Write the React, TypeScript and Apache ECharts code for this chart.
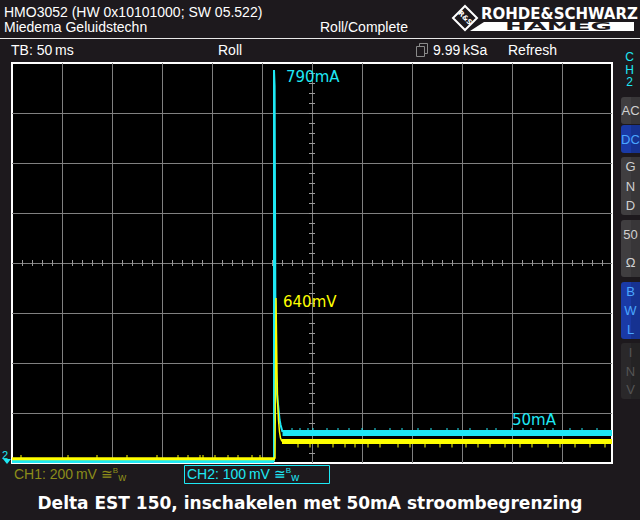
import { useEffect, useRef } from "react";
import * as echarts from "echarts";

// ---- Scope settings ----
const MS_PER_DIV = 50;
const X_DIVS = 12;
const Y_DIVS = 8;
const CH1_MV_PER_DIV = 200;
const CH2_MA_PER_DIV = 100;

// ---- CH2 (current, mA) ----
const ch2PreTrigger: [number, number][] = [[0, 3], [262, 3]];
const ch2Transient: [number, number][] = [
  [262, 3], [262, 786], [262.6, 754], [263.6, 182], [264.6, 146], [265.6, 126],
  [266.6, 106], [267.6, 86], [268.6, 76], [270.5, 62],
];
const ch2Settled: [number, number][] = [[270.5, 60], [600, 60]];
const ch2GlitchTimes = [280, 288, 296, 301, 315, 326, 337, 350, 363, 378, 390, 406, 419, 435, 446, 458, 475, 484, 500, 511, 519, 533, 541, 558, 570, 585];
const ch2GlitchPeak = 70;

// ---- CH1 (voltage, mV) ----
const ch1PreTrigger: [number, number][] = [[0, 17], [263, 17]];
const ch1PreGlitchTimes = [9, 56, 85, 115, 145, 166, 176, 188, 191, 203, 216, 226, 240, 248];
const ch1PreGlitchPeak = 32;
const ch1Transient: [number, number][] = [
  [263, 17], [264, 660], [265, 364], [265.6, 244], [266.5, 172], [267.5, 124],
  [268.5, 100], [270, 86],
];
const ch1Settled: [number, number][] = [[270, 86], [600, 86]];
const ch1GlitchTimes = [286, 298, 306, 321, 333, 343, 356, 368, 386, 398, 413, 428, 440, 454, 466, 478, 493, 508, 520, 536, 548, 563, 578, 593];
const ch1GlitchPeak = 62;

// ---- Texts ----
const headerLine1 = "HMO3052 (HW 0x10101000; SW 05.522)";
const headerLine2 = "Miedema Geluidstechn";
const modeText = "Roll/Complete";
const timebaseText = "TB: 50\u2009ms";
const rollText = "Roll";
const sampleRateText = "9.99\u2009kSa";
const refreshText = "Refresh";
const peakCurrentLabel = "790mA";
const peakVoltageLabel = "640mV";
const settledCurrentLabel = "50mA";
const ch1ScaleText = "CH1: 200\u2009mV \u2245";
const ch2ScaleText = "CH2: 100\u2009mV \u2245";
const captionText = "Delta EST 150, inschakelen met 50mA stroombegrenzing";

const CYAN = "#1ee8f4";
const YELLOW = "#ffff00";
const BG = "#1d191d";

// layout
const GL = 12, GT = 63, GW = 600, GH = 400;

const ch1 = (pts: [number, number][]) => pts.map(([t, v]) => [t, v / CH1_MV_PER_DIV]);
const ch2 = (pts: [number, number][]) => pts.map(([t, v]) => [t, v / CH2_MA_PER_DIV]);
const glitches = (times: number[], base: number, peak: number, perDiv: number) => {
  const out: any[] = [];
  times.forEach((t) => {
    out.push([t, base / perDiv], [t, peak / perDiv], [t, "-"]);
  });
  return out;
};

const lineSeries = (data: any[], color: string, width: number, z: number) => ({
  type: "line",
  data,
  symbol: "none",
  silent: true,
  z,
  lineStyle: { color, width, cap: "butt", join: "miter" },
  connectNulls: false,
});

const txt = (x: number, y: number, text: string, fill: string, font: string, align = "left", extra: any = {}) => ({
  type: "text",
  x,
  y,
  z: 50,
  silent: true,
  style: { text, fill, font, align, verticalAlign: "middle" },
  ...extra,
});

const FONT = '14px "Liberation Sans", Arial, sans-serif';
const BTN_FONT = '12px "Liberation Sans", Arial, sans-serif';

function buildGraphics() {
  const g: any[] = [];
  // header
  g.push(txt(4, 12, headerLine1, "#ffffff", FONT));
  g.push(txt(4, 27, headerLine2, "#ffffff", FONT));
  g.push(txt(320, 27, modeText, "#ffffff", FONT));
  g.push({ type: "line", z: 50, silent: true, shape: { x1: 0, y1: 38.5, x2: 640, y2: 38.5 }, style: { stroke: "#e8e8e8", lineWidth: 1 } });
  // logo
  g.push({ type: "polygon", z: 50, silent: true, shape: { points: [[465, 6], [477, 18], [465, 30], [453, 18]] }, style: { fill: "none", stroke: "#ffffff", lineWidth: 2 } });
  g.push(txt(465, 18, "R&S", "#ffffff", 'bold 7px "DejaVu Sans", sans-serif', "center", { rotation: -Math.PI / 4 }));
  g.push(txt(481, 14, "ROHDE&SCHWARZ", "#ffffff", 'bold 15px "DejaVu Sans", sans-serif', "left"));
  g.push({ type: "rect", z: 50, silent: true, shape: { x: 484, y: 22, width: 150, height: 9 }, style: { fill: "#ffffff" } });
  g.push({ type: "polygon", z: 50, silent: true, shape: { points: [[484, 22], [484, 31], [470, 31]] }, style: { fill: "#ffffff" } });
  g.push(txt(505, 26.8, "HAMEG", BG, 'bold 10px "DejaVu Sans", sans-serif', "left", { scaleX: 2.6 }));
  // status row
  g.push(txt(11, 50, timebaseText, "#ffffff", FONT));
  g.push(txt(218, 50, rollText, "#ffffff", FONT));
  g.push({ type: "rect", z: 50, silent: true, shape: { x: 419.5, y: 43.5, width: 8, height: 10 }, style: { fill: BG, stroke: "#8a8a8a", lineWidth: 1 } });
  g.push({ type: "rect", z: 51, silent: true, shape: { x: 416.5, y: 46.5, width: 8, height: 10 }, style: { fill: BG, stroke: "#8a8a8a", lineWidth: 1 } });
  g.push(txt(433, 50, sampleRateText, "#ffffff", FONT));
  g.push(txt(508, 50, refreshText, "#ffffff", FONT));
  // side panel
  ["C", "H", "2"].forEach((c, i) => g.push(txt(629.5, 57 + i * 12.5, c, CYAN, BTN_FONT, "center")));
  const buttons = [
    { y: 97, h: 27, fill: "#403e40", color: "#d0d0d0", letters: ["AC"] },
    { y: 125, h: 28, fill: "#1a3aa6", color: "#4aa6ff", letters: ["DC"] },
    { y: 157, h: 58, fill: "#403e40", color: "#d0d0d0", letters: ["G", "N", "D"] },
    { y: 220, h: 57, fill: "#403e40", color: "#d0d0d0", letters: ["50", "\u03a9"] },
    { y: 282, h: 57, fill: "#1a3aa6", color: "#4aa6ff", letters: ["B", "W", "L"] },
    { y: 343, h: 56, fill: "#2a282a", color: "#555555", letters: ["I", "N", "V"] },
  ];
  buttons.forEach((b) => {
    g.push({ type: "rect", z: 50, silent: true, shape: { x: 621, y: b.y, width: 19, height: b.h, r: [3, 0, 0, 3] }, style: { fill: b.fill } });
    g.push({ type: "rect", z: 50, silent: true, shape: { x: 631, y: b.y, width: 9, height: b.h }, style: { fill: "rgba(0,0,0,0.12)" } });
    const n = b.letters.length;
    b.letters.forEach((l, i) => {
      const cy = b.y + (b.h / n) * (i + 0.5);
      g.push(txt(630.5, cy, l, b.color, '13px "Liberation Sans", Arial, sans-serif', "center"));
    });
  });
  // center-line minor ticks
  const cx = GL + GW / 2;
  const cy = GT + GH / 2;
  for (let k = 1; k < (GW / 10); k++) {
    const x = GL + k * 10 + 0.5;
    g.push({ type: "line", z: 3, silent: true, shape: { x1: x, y1: cy - 3, x2: x, y2: cy + 3 }, style: { stroke: "#9a9a9a", lineWidth: 1 } });
  }
  for (let k = 1; k < (GH / 10); k++) {
    const y = GT + k * 10 + 0.5;
    g.push({ type: "line", z: 3, silent: true, shape: { x1: cx - 3, y1: y, x2: cx + 3, y2: y }, style: { stroke: "#9a9a9a", lineWidth: 1 } });
  }
  // channel marker
  g.push(txt(2, 455, "2", CYAN, '11px "Liberation Sans", Arial, sans-serif'));
  g.push({ type: "polygon", z: 50, silent: true, shape: { points: [[3, 459], [11, 459], [7, 464]] }, style: { fill: CYAN } });
  // annotations
  g.push(txt(286, 77, peakCurrentLabel, CYAN, '15px "DejaVu Sans", sans-serif'));
  g.push(txt(283, 302, peakVoltageLabel, YELLOW, '15px "DejaVu Sans", sans-serif'));
  g.push(txt(512, 420, settledCurrentLabel, CYAN, '15px "DejaVu Sans", sans-serif'));
  // bottom channel scales
  const rich = (color: string) => ({
    a: { fill: color, font: FONT, lineHeight: 16 },
    b: { fill: color, font: '8px "Liberation Sans", Arial, sans-serif', verticalAlign: "top", lineHeight: 16 },
    c: { fill: color, font: '11px "Liberation Sans", Arial, sans-serif', verticalAlign: "bottom", lineHeight: 16 },
  });
  g.push({ type: "text", x: 14, y: 474, z: 50, silent: true, style: { text: `{a|${ch1ScaleText}}{b|B}{c|w}`, rich: rich("#8c8c1a"), verticalAlign: "middle" } });
  g.push({ type: "rect", z: 50, silent: true, shape: { x: 184.5, y: 465.5, width: 145, height: 18 }, style: { fill: "none", stroke: CYAN, lineWidth: 1 } });
  g.push({ type: "text", x: 187, y: 474, z: 50, silent: true, style: { text: `{a|${ch2ScaleText}}{b|B}{c|w}`, rich: rich(CYAN), verticalAlign: "middle" } });
  // caption
  g.push(txt(310, 503, captionText, "#ffffff", 'bold 17px "DejaVu Sans", sans-serif', "center"));
  return g;
}

export default function App() {
  const ref = useRef<HTMLDivElement>(null);
  useEffect(() => {
    if (!ref.current) return;
    const chart = echarts.init(ref.current, null, { renderer: "svg" });
    chart.setOption({
      animation: false,
      backgroundColor: BG,
      grid: { left: GL, top: GT, width: GW, height: GH, show: true, backgroundColor: "#000000", borderColor: "#ffffff", borderWidth: 2, z: 0 },
      xAxis: {
        type: "value",
        min: 0,
        max: MS_PER_DIV * X_DIVS,
        interval: MS_PER_DIV,
        axisLine: { show: false },
        axisTick: { show: false },
        axisLabel: { show: false },
        splitLine: { show: true, showMinLine: false, showMaxLine: false, lineStyle: { color: "#808080", width: 1 } },
      },
      yAxis: {
        type: "value",
        min: 0,
        max: Y_DIVS,
        interval: 1,
        axisLine: { show: false },
        axisTick: { show: false },
        axisLabel: { show: false },
        splitLine: { show: true, showMinLine: false, showMaxLine: false, lineStyle: { color: "#808080", width: 1 } },
      },
      series: [
        lineSeries(ch2(ch2PreTrigger), CYAN, 3, 4),
        lineSeries(ch2(ch2Transient), CYAN, 2, 4),
        lineSeries(ch2(ch2Settled), CYAN, 6, 4),
        lineSeries(glitches(ch2GlitchTimes, 60, ch2GlitchPeak, CH2_MA_PER_DIV), CYAN, 1, 4),
        lineSeries(ch1(ch1PreTrigger), YELLOW, 3, 5),
        lineSeries(glitches(ch1PreGlitchTimes, 17, ch1PreGlitchPeak, CH1_MV_PER_DIV), YELLOW, 1, 5),
        lineSeries(ch1(ch1Transient), YELLOW, 1.5, 5),
        lineSeries(ch1(ch1Settled), YELLOW, 5, 5),
        lineSeries(glitches(ch1GlitchTimes, 86, ch1GlitchPeak, CH1_MV_PER_DIV), YELLOW, 1, 5),
      ],
      graphic: buildGraphics(),
    });
    return () => chart.dispose();
  }, []);
  return <div ref={ref} style={{ position: "fixed", left: 0, top: 0, width: 640, height: 520 }} />;
}
